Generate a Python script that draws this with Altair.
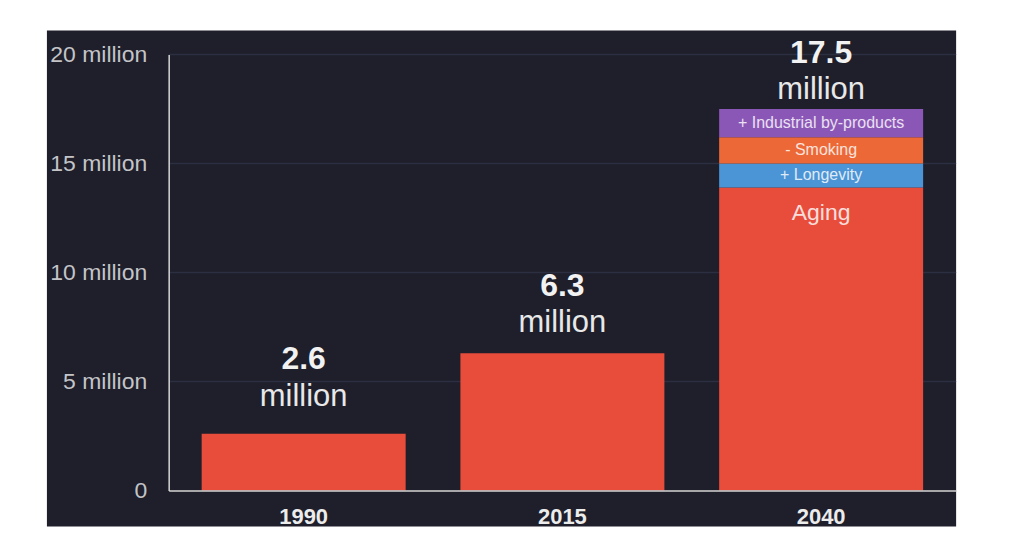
import altair as alt
import pandas as pd

# ---- data ----
years = ["1990", "2015", "2040"]
totals = [2.6, 6.3, 17.5]
total_labels = ["2.6", "6.3", "17.5"]

seg_years = ["1990", "2015", "2040", "2040", "2040", "2040"]
seg_kinds = ["Base", "Base", "Aging", "Longevity", "Smoking", "Industrial"]
seg_texts = ["", "", "Aging", "+ Longevity", "- Smoking", "+ Industrial by-products"]
seg_values = [2.6, 6.3, 13.9, 1.1, 1.2, 1.3]
seg_order = [0, 0, 0, 1, 2, 3]

grid_values = [5, 10, 15, 20]
tick_values = [0, 5, 10, 15, 20]

kind_domain = ["Base", "Aging", "Longevity", "Smoking", "Industrial"]
kind_colors = ["#e84c3a", "#e84c3a", "#4b95d6", "#ec6836", "#8b57b7"]

seg_df = pd.DataFrame({"year": seg_years, "kind": seg_kinds, "text": seg_texts,
                       "value": seg_values, "order": seg_order})
tot_df = pd.DataFrame({"year": years, "total": totals, "label": total_labels})
grid_df = pd.DataFrame({"g": grid_values})

W, H = 789, 437
FONT = "Liberation Sans"
BG = "#1e1f2b"

yscale = alt.Scale(domain=[0, 20], nice=False)
y_axis = alt.Axis(title=None, values=tick_values, grid=False, ticks=False, tickSize=0,
                  labelExpr="datum.value == 0 ? '0' : datum.value + ' million'",
                  labelFont=FONT, labelFontSize=23, labelColor="#c4c4c8", labelPadding=22,
                  domainColor="#d6d6d6", domainWidth=1.5, zindex=1)
x_axis = alt.Axis(title=None, labelAngle=0, ticks=False, tickSize=0, labelFont=FONT,
                  labelFontSize=22, labelFontWeight="bold", labelColor="#ececec",
                  labelBaseline="middle", labelPadding=26,
                  domainColor="#d6d6d6", domainWidth=1.5, zindex=1)
xscale = alt.Scale(domain=years, paddingInner=0.2116, paddingOuter=0.1275)
X = alt.X("year:N", scale=xscale, axis=x_axis)

panel = alt.Chart(pd.DataFrame({"a": [0]})).mark_rect(color=BG).encode(
    x=alt.value(-122), x2=alt.value(W), y=alt.value(-24), y2=alt.value(H + 36))

grid = alt.Chart(grid_df).mark_rule(color="#2c2f42", strokeWidth=1.5).encode(
    x=alt.value(0), x2=alt.value(W), y=alt.Y("g:Q", scale=yscale, axis=y_axis))

bars = alt.Chart(seg_df).mark_bar().encode(
    x=X,
    y=alt.Y("value:Q", stack="zero", scale=yscale, axis=y_axis),
    color=alt.Color("kind:N", scale=alt.Scale(domain=kind_domain, range=kind_colors), legend=None),
    order=alt.Order("order:Q"))

stacked = alt.Chart(seg_df).transform_stack(
    stack="value", groupby=["year"], as_=["v0", "v1"],
    sort=[alt.SortField("order", "ascending")]
).transform_calculate(mid="(datum.v0 + datum.v1) / 2")

small_labels = stacked.transform_filter("datum.order > 0").mark_text(
    font=FONT, fontSize=16, color="#ffffff", opacity=0.82, baseline="middle").encode(
    x=X, y=alt.Y("mid:Q", scale=yscale, axis=y_axis), text="text:N")

aging_label = stacked.transform_filter("datum.kind == 'Aging'").mark_text(
    font=FONT, fontSize=23, color="#ffffff", opacity=0.82, baseline="middle", dy=26).encode(
    x=X, y=alt.Y("v1:Q", scale=yscale, axis=y_axis), text="text:N")

offsets = {"1990": (-75, -37), "2015": (-67, -30), "2040": (-56, -19)}
total_layers = []
for yr, (dnum, dmil) in offsets.items():
    base = alt.Chart(tot_df).transform_filter(f"datum.year == '{yr}'")
    total_layers.append(base.mark_text(font=FONT, fontSize=32, fontWeight="bold",
                                       color="#f2f2f2", baseline="middle", dy=dnum).encode(
        x=X, y=alt.Y("total:Q", scale=yscale, axis=y_axis), text="label:N"))
    total_layers.append(base.mark_text(font=FONT, fontSize=31, color="#e8e8e8",
                                       baseline="middle", dy=dmil).encode(
        x=X, y=alt.Y("total:Q", scale=yscale, axis=y_axis), text=alt.value("million")))

chart = alt.layer(panel, grid, bars, small_labels, aging_label, *total_layers).properties(
    width=W, height=H, background="white",
    autosize=alt.AutoSizeParams(type="none"),
    padding={"left": 161, "top": 46, "right": 60, "bottom": 40},
).configure_view(stroke=None)

chart.save("out.html", embed_options={"renderer": "svg", "actions": False})
